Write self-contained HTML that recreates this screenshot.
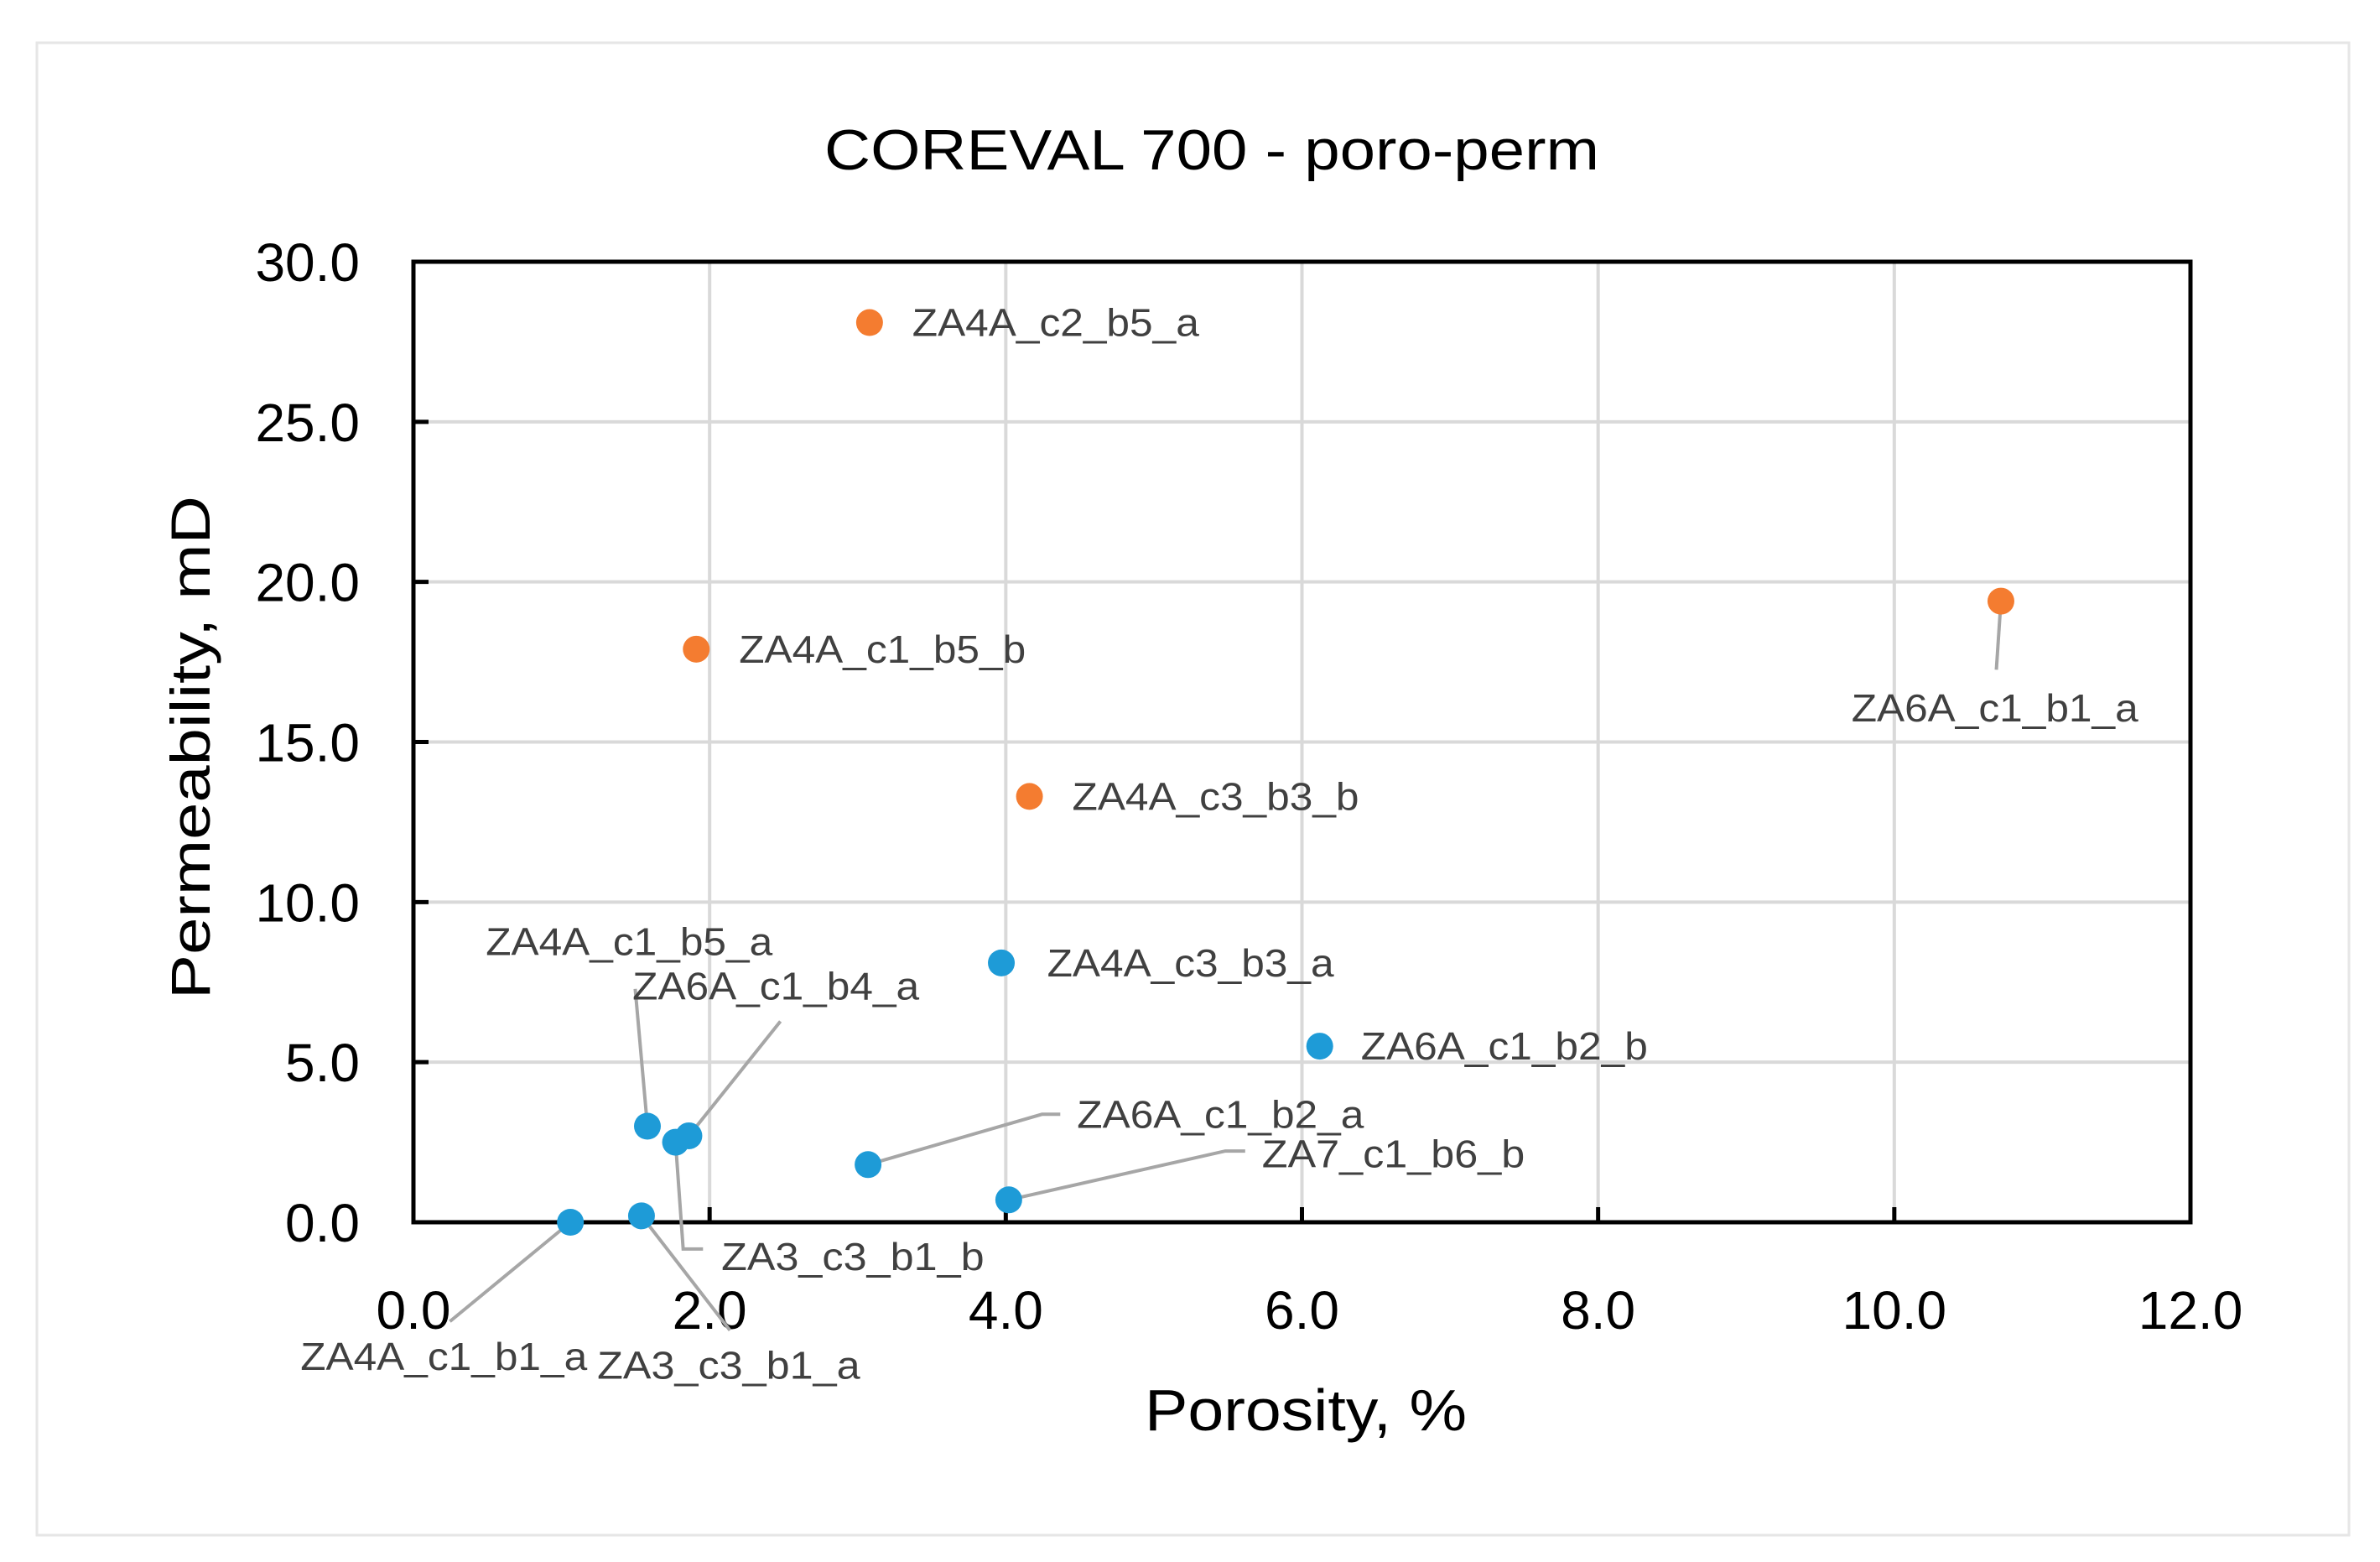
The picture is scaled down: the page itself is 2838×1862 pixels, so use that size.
<!DOCTYPE html>
<html><head><meta charset="utf-8"><style>
html,body{margin:0;padding:0;background:#fff;}
svg{display:block;}
text{font-family:"Liberation Sans",sans-serif;}
</style></head><body>
<svg id="chart" width="2838" height="1862" viewBox="0 0 2838 1862" xmlns="http://www.w3.org/2000/svg">
<rect x="44" y="51" width="2757" height="1779" fill="#fff" stroke="#e6e6e6" stroke-width="3"/>
<text x="1445" y="202" font-size="68" text-anchor="middle" textLength="924" lengthAdjust="spacingAndGlyphs" fill="#000">COREVAL 700 - poro-perm</text>
<g id="grid"></g>
<g id="axes"></g>
<g id="leaders"></g>
<g id="pts"></g>
<g id="labels"></g>
<text x="1557" y="1705" font-size="70" text-anchor="middle" textLength="384" lengthAdjust="spacingAndGlyphs">Porosity, %</text>
<text transform="translate(250,891) rotate(-90)" font-size="66" text-anchor="middle" textLength="600" lengthAdjust="spacingAndGlyphs">Permeability, mD</text>
</svg>
<script>
const xTicks = [0,2,4,6,8,10,12];
const yTicks = [0,5,10,15,20,25,30];
const names = ["ZA4A_c2_b5_a","ZA4A_c1_b5_b","ZA4A_c3_b3_b","ZA6A_c1_b1_a","ZA4A_c1_b1_a","ZA3_c3_b1_a","ZA4A_c1_b5_a","ZA3_c3_b1_b","ZA6A_c1_b4_a","ZA6A_c1_b2_a","ZA4A_c3_b3_a","ZA7_c1_b6_b","ZA6A_c1_b2_b"];
const porosity = [3.08,1.91,4.16,10.72,1.06,1.54,1.58,1.77,1.86,3.07,3.97,4.02,6.12];
const permeability = [28.1,17.9,13.3,19.4,0.0,0.2,3.0,2.5,2.7,1.8,8.1,0.7,5.5];
const group = ["o","o","o","o","b","b","b","b","b","b","b","b","b"];

const L=493,R=2612,T=312,B=1457,S=1.819;
const X=v=>L+(v-0)/12*(R-L);
const Y=v=>B-(v-0)/30*(B-T);
const NS="http://www.w3.org/2000/svg";
function mk(tag,attrs,parent){const e=document.createElementNS(NS,tag);for(const k in attrs)e.setAttribute(k,attrs[k]);parent.appendChild(e);return e;}
const grid=document.getElementById('grid'),axes=document.getElementById('axes');
xTicks.forEach(t=>{
  const l=mk('line',{x1:X(t),x2:X(t),y1:T,y2:B,stroke:'#d9d9d9','stroke-width':4},grid);
  
  
  const tk=mk('line',{x1:X(t),x2:X(t),y1:B,y2:B-18,stroke:'#000','stroke-width':5},axes);
  
  
  const tx=mk('text',{x:X(t),y:1584,'font-size':64,'text-anchor':'middle'},axes);
  tx.textContent=t.toFixed(1);
  
  
});
yTicks.forEach(t=>{
  const l=mk('line',{x1:L,x2:R,y1:Y(t),y2:Y(t),stroke:'#d9d9d9','stroke-width':4},grid);
  
  
  const tx=mk('text',{x:429,y:Y(t)+23,'font-size':64,'text-anchor':'end'},axes);
  tx.textContent=t.toFixed(1);
  
  
  const tk=mk('line',{x1:L,x2:L+18,y1:Y(t),y2:Y(t),stroke:'#000','stroke-width':5},axes);
  
  
});
const frame=mk('rect',{x:L,y:T,width:R-L,height:B-T,fill:'none',stroke:'#000','stroke-width':5},axes);



const lay = [
 [28,0,null],[28,0,null],[28,0,null],
 [-98,70,[[0,0],[-3,45]]],
 [-177,88,[[0,0],[-79,65]]],
 [-29,98,[[0,0],[58,75]]],
 [-106,-121,[[0,0],[-8,-90]]],
 [30,75,[[0,0],[5,70],[18,70]]],
 [-37,-98,[[0,0],[60,-75]]],
 [137,-33,[[0,0],[114,-33],[126,-33]]],
 [30,0,null],
 [166,-30,[[0,0],[142,-32],[155,-32]]],
 [27,0,null]
];
const pts=document.getElementById('pts'),labs=document.getElementById('labels'),lead=document.getElementById('leaders');
porosity.forEach((p,i)=>{
  const cx=X(p),cy=Y(permeability[i]);
  const c=mk('circle',{cx:cx,cy:cy,r:16,fill:group[i]==='o'?'#F47C30':'#1E9BD7'},pts);
  
  
  const o=lay[i];
  if(o[2]){
    const pl=mk('polyline',{points:o[2].map(q=>(cx+q[0]*S)+','+(cy+q[1]*S)).join(' '),fill:'none',stroke:'#a6a6a6','stroke-width':4},lead);
    
    
  }
  const tx=mk('text',{x:cx+o[0]*S,y:cy+o[1]*S+16,'font-size':46,fill:'#404040',textLength:names[i].length*28.5,lengthAdjust:'spacingAndGlyphs'},labs);
  tx.textContent=names[i];
  
  
});
</script>
</body></html>
